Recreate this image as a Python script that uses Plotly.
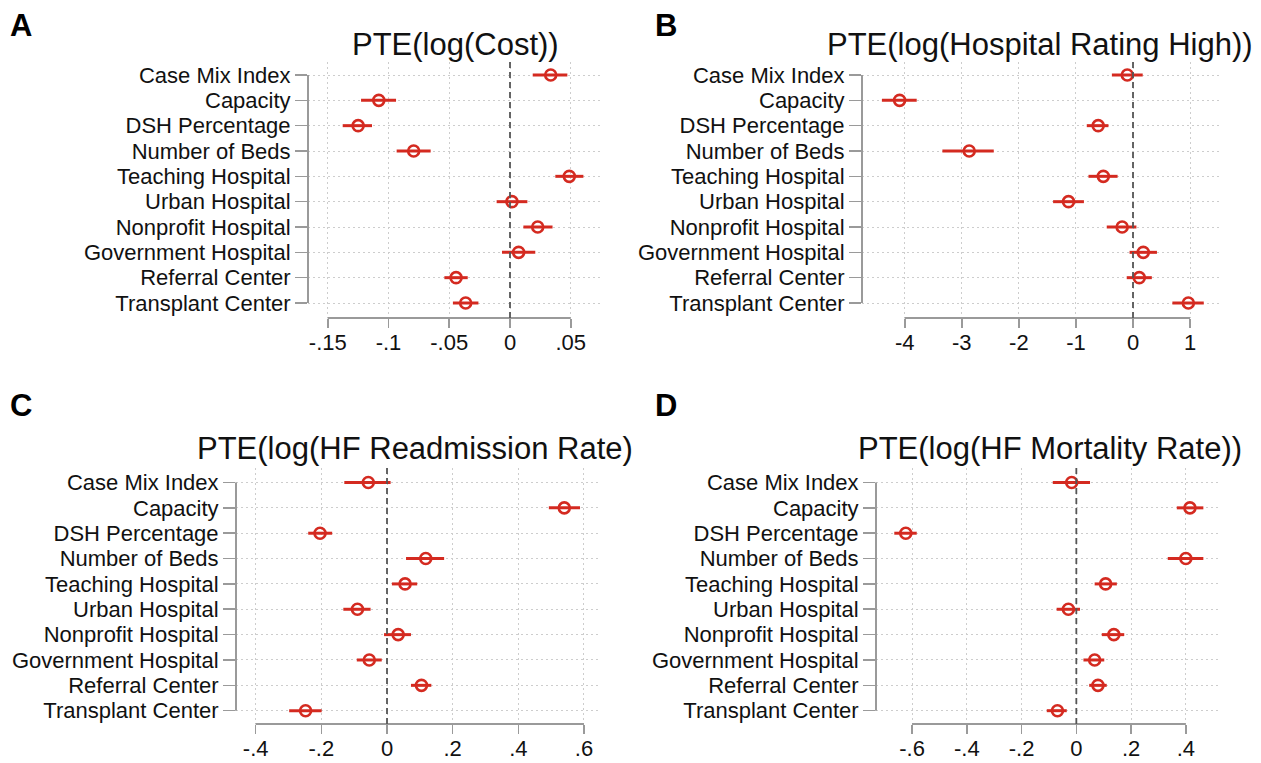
import plotly.graph_objects as go

W, H = 1261, 763

labels = ["Case Mix Index", "Capacity", "DSH Percentage", "Number of Beds",
          "Teaching Hospital", "Urban Hospital", "Nonprofit Hospital",
          "Government Hospital", "Referral Center", "Transplant Center"]

# Panel A: PTE(log(Cost))
a_est = [0.0335, -0.108, -0.125, -0.0793, 0.0488, 0.0016, 0.0228, 0.0071, -0.0444, -0.0365]
a_lo = [0.0187, -0.1226, -0.1377, -0.0933, 0.0373, -0.011, 0.011, -0.0066, -0.054, -0.047]
a_hi = [0.0472, -0.0938, -0.1136, -0.0653, 0.0604, 0.0143, 0.035, 0.0208, -0.0348, -0.026]
a_ticks = [-0.15, -0.1, -0.05, 0, 0.05]
a_ticktext = ["-.15", "-.1", "-.05", "0", ".05"]

# Panel B: PTE(log(Hospital Rating High))
b_est = [-0.10, -4.09, -0.61, -2.87, -0.52, -1.13, -0.19, 0.18, 0.11, 0.97]
b_lo = [-0.37, -4.40, -0.81, -3.34, -0.78, -1.40, -0.46, -0.06, -0.11, 0.69]
b_hi = [0.17, -3.79, -0.43, -2.44, -0.27, -0.86, 0.06, 0.42, 0.33, 1.24]
b_ticks = [-4, -3, -2, -1, 0, 1]
b_ticktext = ["-4", "-3", "-2", "-1", "0", "1"]

# Panel C: PTE(log(HF Readmission Rate))
c_est = [-0.057, 0.540, -0.204, 0.118, 0.055, -0.090, 0.034, -0.054, 0.105, -0.248]
c_lo = [-0.130, 0.493, -0.240, 0.058, 0.015, -0.133, -0.009, -0.092, 0.073, -0.298]
c_hi = [0.011, 0.588, -0.167, 0.174, 0.092, -0.050, 0.073, -0.016, 0.135, -0.199]
c_ticks = [-0.4, -0.2, 0, 0.2, 0.4, 0.6]
c_ticktext = ["-.4", "-.2", "0", ".2", ".4", ".6"]

# Panel D: PTE(log(HF Mortality Rate))
d_est = [-0.017, 0.415, -0.623, 0.400, 0.107, -0.029, 0.137, 0.067, 0.079, -0.069]
d_lo = [-0.086, 0.367, -0.665, 0.334, 0.067, -0.072, 0.093, 0.026, 0.047, -0.108]
d_hi = [0.050, 0.464, -0.583, 0.464, 0.148, 0.0135, 0.175, 0.102, 0.111, -0.035]
d_ticks = [-0.6, -0.4, -0.2, 0, 0.2, 0.4]
d_ticktext = ["-.6", "-.4", "-.2", "0", ".2", ".4"]

titles = ["PTE(log(Cost))", "PTE(log(Hospital Rating High))",
          "PTE(log(HF Readmission Rate)", "PTE(log(HF Mortality Rate))"]
letters = ["A", "B", "C", "D"]

RED = "#d42a20"
FONT = "Liberation Sans, Arial, Helvetica, sans-serif"
AXIS_C = "#9a9a9a"
GRID_C = "#cdcdcd"

# layout geometry in pixels: (left, right, top, bottom), x range, y range
panels = [
    dict(est=a_est, lo=a_lo, hi=a_hi, ticks=a_ticks, tt=a_ticktext,
         px=(308, 603), py=(62, 318), xr=(-0.16626, 0.07654), yr=(9.592, -0.513),
         title_x=455, title_y=44, letter=(21, 26)),
    dict(est=b_est, lo=b_lo, hi=b_hi, ticks=b_ticks, tt=b_ticktext,
         px=(862, 1222), py=(62, 318), xr=(-4.7486, 1.5596), yr=(9.592, -0.513),
         title_x=1040, title_y=44, letter=(666, 26)),
    dict(est=c_est, lo=c_lo, hi=c_hi, ticks=c_ticks, tt=c_ticktext,
         px=(236, 600), py=(468, 724), xr=(-0.45994, 0.64880), yr=(9.525, -0.572),
         title_x=195, title_y=449, letter=(21, 405), left_title=True),
    dict(est=d_est, lo=d_lo, hi=d_hi, ticks=d_ticks, tt=d_ticktext,
         px=(876, 1218), py=(468, 724), xr=(-0.7318, 0.5175), yr=(9.525, -0.572),
         title_x=1050, title_y=449, letter=(666, 405)),
]

fig = go.Figure()
shapes = []
annotations = []
layout = {}

for i, p in enumerate(panels):
    n = "" if i == 0 else str(i + 1)
    xa, ya = "x" + n, "y" + n
    err_plus = [h - e for h, e in zip(p["hi"], p["est"])]
    err_minus = [e - l for e, l in zip(p["est"], p["lo"])]
    fig.add_trace(go.Scatter(
        x=p["est"], y=labels, xaxis=xa, yaxis=ya, mode="markers",
        marker=dict(symbol="circle-open", size=11, color=RED,
                    line=dict(width=2.6, color=RED)),
        error_x=dict(type="data", symmetric=False, array=err_plus,
                     arrayminus=err_minus, color=RED, thickness=3, width=0),
        showlegend=False, hoverinfo="skip"))

    x0, x1 = p["px"]
    yt, yb = p["py"]
    layout["xaxis" + n] = dict(
        domain=[x0 / W, x1 / W], range=list(p["xr"]), anchor=ya,
        tickmode="array", tickvals=p["ticks"], ticktext=p["tt"],
        showgrid=True, gridcolor=GRID_C, griddash="2px,3px", gridwidth=1,
        zeroline=False, showline=False,
        ticks="outside", ticklen=9, tickwidth=1.6, tickcolor=AXIS_C,
        ticklabelstandoff=-4,
        tickfont=dict(family=FONT, size=22, color="#111"),
        automargin=False, fixedrange=True)
    layout["yaxis" + n] = dict(
        domain=[1 - yb / H, 1 - yt / H], range=list(p["yr"]), anchor=xa,
        type="category", categoryorder="array", categoryarray=labels,
        tickmode="array", tickvals=labels, ticktext=labels,
        showgrid=True, gridcolor=GRID_C, griddash="2px,3px", gridwidth=1,
        zeroline=False, showline=False,
        ticks="outside", ticklen=12, tickwidth=1.6, tickcolor=AXIS_C,
        tickfont=dict(family=FONT, size=22, color="#111"),
        automargin=False, fixedrange=True)

    # Stata-style axis lines spanning the tick range only
    shapes.append(dict(type="line", xref=xa, yref=ya + " domain",
                       x0=p["ticks"][0], x1=p["ticks"][-1], y0=0, y1=0,
                       line=dict(color=AXIS_C, width=2)))
    shapes.append(dict(type="line", xref=xa + " domain", yref=ya,
                       x0=0, x1=0, y0=labels[0], y1=labels[-1],
                       line=dict(color=AXIS_C, width=2)))
    # dashed zero reference line
    shapes.append(dict(type="line", xref=xa, yref=ya + " domain",
                       x0=0, x1=0, y0=0, y1=1,
                       line=dict(color="#555555", width=1.8, dash="6px,4px")))

    annotations.append(dict(text=titles[i], xref="paper", yref="paper",
                            x=p["title_x"] / W, y=1 - p["title_y"] / H,
                            xanchor="left" if p.get("left_title") else "center",
                            yanchor="middle", showarrow=False,
                            font=dict(family=FONT, size=31, color="#111")))
    lx, ly = p["letter"]
    annotations.append(dict(text="<b>" + letters[i] + "</b>", xref="paper", yref="paper",
                            x=lx / W, y=1 - ly / H, xanchor="center", yanchor="middle",
                            showarrow=False,
                            font=dict(family=FONT, size=31, color="#000")))

fig.update_layout(
    width=W, height=H, autosize=False,
    margin=dict(l=0, r=0, t=0, b=0),
    paper_bgcolor="white", plot_bgcolor="white",
    shapes=shapes, annotations=annotations,
    **layout)

fig.write_html("out.html",
               config={"displayModeBar": False, "staticPlot": True},
               post_script="document.body.style.margin='0px';"
                           "document.body.style.overflow='hidden';")
